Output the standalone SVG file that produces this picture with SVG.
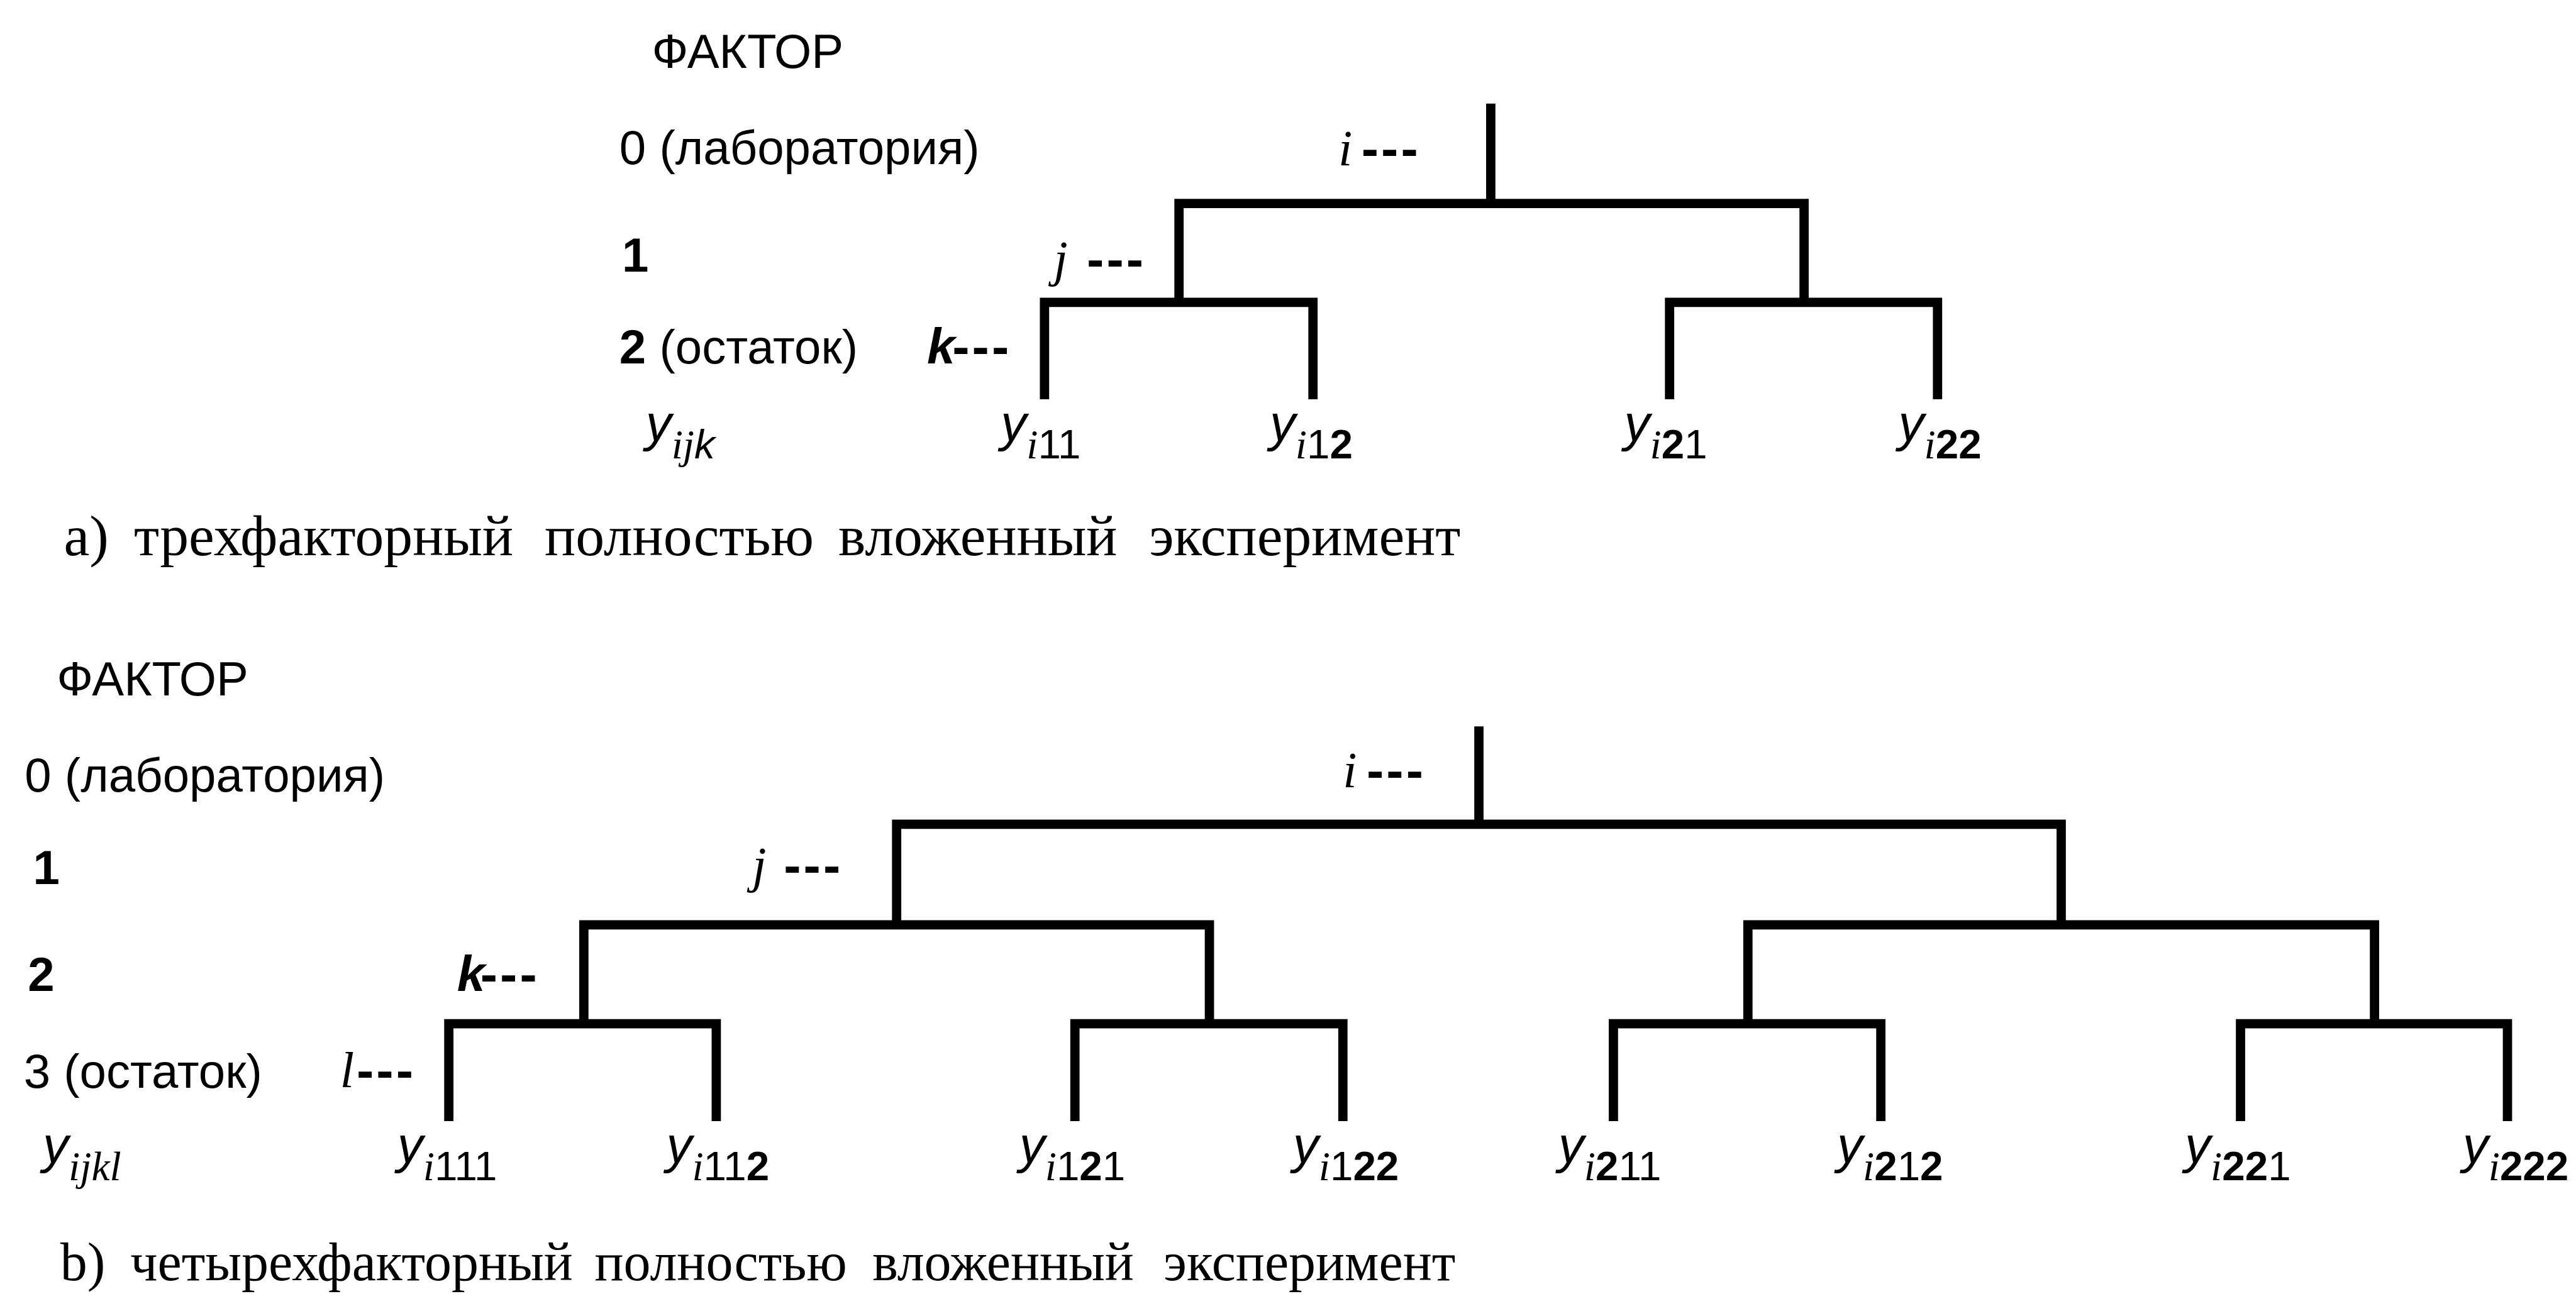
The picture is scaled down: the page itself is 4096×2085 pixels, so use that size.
<svg xmlns="http://www.w3.org/2000/svg" width="4096" height="2085" viewBox="0 0 4096 2085">
<style>
.sans{font-family:"Liberation Sans",Arial,sans-serif;fill:#000}
.row{font-family:"Liberation Sans",Arial,sans-serif;font-size:93px;fill:#000}
.b{font-weight:bold}
.it{font-family:"Liberation Serif","Times New Roman",serif;font-style:italic}
.sit{font-family:"Liberation Sans",Arial,sans-serif;font-style:italic}
.lvl{font-size:98px;fill:#000}
.dash{font-family:"Liberation Sans",Arial,sans-serif;font-weight:bold;font-size:100px;letter-spacing:5px;fill:#000}
.yl{font-family:"Liberation Sans",Arial,sans-serif;font-style:italic;font-size:100px;fill:#000}
.sub{font-size:80px}
.subi{font-family:"Liberation Serif","Times New Roman",serif;font-style:italic;font-size:80px}
.subd{font-family:"Liberation Sans",Arial,sans-serif;font-style:normal;font-size:80px}
.cap{font-family:"Liberation Serif","Times New Roman",serif;font-size:112px;fill:#000}
.capb{font-family:"Liberation Serif","Times New Roman",serif;font-size:105px;fill:#000}
.edge{fill:none;stroke:#000;stroke-width:18;stroke-linejoin:miter;stroke-linecap:butt}
</style>
<rect width="4096" height="2085" fill="#fff"/>
<g transform="scale(0.81936)">
  <!-- ===== Diagram a ===== -->
  <g id="a-rows">
    <text class="row" x="1265" y="132">ФАКТОР</text>
    <text class="row" x="1202" y="318">0 (лаборатория)</text>
    <text class="row b" x="1207" y="527">1</text>
    <text class="row" x="1202" y="706"><tspan class="b">2</tspan> (остаток)</text>
  </g>
  <g id="a-level-i"><text class="lvl it" x="2597" y="321">i</text><text class="dash" x="2642" y="322">---</text></g>
  <g id="a-level-j"><text class="lvl it" x="2045" y="536">j</text><text class="dash" x="2109" y="537">---</text></g>
  <g id="a-level-k"><text class="lvl sit b" x="1799" y="706">k</text><text class="dash" x="1848" y="707">---</text></g>
  <g id="a-yijk"><text class="yl" x="1253" y="856">y<tspan class="subi" y="890">ij</tspan><tspan class="sub">k</tspan></text></g>
  <g id="a-yi11"><text class="yl" x="1942" y="856">y<tspan class="subi" y="890">i</tspan><tspan class="subd">11</tspan></text></g>
  <g id="a-yi12"><text class="yl" x="2464" y="856">y<tspan class="subi" y="890">i</tspan><tspan class="subd">1<tspan class="b">2</tspan></tspan></text></g>
  <g id="a-yi21"><text class="yl" x="3152" y="856">y<tspan class="subi" y="890">i</tspan><tspan class="subd"><tspan class="b">2</tspan>1</tspan></text></g>
  <g id="a-yi22"><text class="yl" x="3684" y="856">y<tspan class="subi" y="890">i</tspan><tspan class="subd b">22</tspan></text></g>
  <g id="a-caption"><text class="cap" y="1078"><tspan x="124">a)</tspan><tspan x="260">трехфакторный</tspan><tspan x="1057">полностью</tspan><tspan x="1627">вложенный</tspan><tspan x="2230">эксперимент</tspan></text></g>

  <!-- ===== Diagram b ===== -->
  <g id="b-rows">
    <text class="row" x="110" y="1350">ФАКТОР</text>
    <text class="row" x="48" y="1536">0 (лаборатория)</text>
    <text class="row b" x="64" y="1716">1</text>
    <text class="row b" x="54" y="1924">2</text>
    <text class="row" x="46" y="2112">3 (остаток)</text>
  </g>
  <g id="b-level-i"><text class="lvl it" x="2606" y="1528">i</text><text class="dash" x="2652" y="1529">---</text></g>
  <g id="b-level-j"><text class="lvl it" x="1460" y="1712">j</text><text class="dash" x="1521" y="1713">---</text></g>
  <g id="b-level-k"><text class="lvl sit b" x="887" y="1924">k</text><text class="dash" x="932" y="1925">---</text></g>
  <g id="b-level-l"><text class="lvl it" x="660" y="2110">l</text><text class="dash" x="692" y="2111">---</text></g>
  <g id="b-yijkl"><text class="yl" x="83" y="2257">y<tspan class="subi" y="2291">ijkl</tspan></text></g>
  <g id="b-yi111"><text class="yl" x="771" y="2257">y<tspan class="subi" y="2291">i</tspan><tspan class="subd">111</tspan></text></g>
  <g id="b-yi112"><text class="yl" x="1293" y="2257">y<tspan class="subi" y="2291">i</tspan><tspan class="subd">11<tspan class="b">2</tspan></tspan></text></g>
  <g id="b-yi121"><text class="yl" x="1978" y="2257">y<tspan class="subi" y="2291">i</tspan><tspan class="subd">1<tspan class="b">2</tspan>1</tspan></text></g>
  <g id="b-yi122"><text class="yl" x="2509" y="2257">y<tspan class="subi" y="2291">i</tspan><tspan class="subd">1<tspan class="b">22</tspan></tspan></text></g>
  <g id="b-yi211"><text class="yl" x="3024" y="2257">y<tspan class="subi" y="2291">i</tspan><tspan class="subd"><tspan class="b">2</tspan>11</tspan></text></g>
  <g id="b-yi212"><text class="yl" x="3565" y="2257">y<tspan class="subi" y="2291">i</tspan><tspan class="subd"><tspan class="b">2</tspan>1<tspan class="b">2</tspan></tspan></text></g>
  <g id="b-yi221"><text class="yl" x="4240" y="2257">y<tspan class="subi" y="2291">i</tspan><tspan class="subd"><tspan class="b">22</tspan>1</tspan></text></g>
  <g id="b-yi222"><text class="yl" x="4779" y="2257">y<tspan class="subi" y="2291">i</tspan><tspan class="subd b">222</tspan></text></g>
  <g id="b-caption"><text class="capb" y="2485"><tspan x="117">b)</tspan><tspan x="253">четырехфакторный</tspan><tspan x="1154">полностью</tspan><tspan x="1693">вложенный</tspan><tspan x="2258">эксперимент</tspan></text></g>

  <!-- ===== Connectors ===== -->
  <g id="connectors" class="edge">
    <path d="M2893,201 V395"/>
    <path d="M2288,587 V395 H3501 V587"/>
    <path d="M2027,775 V587 H2548 V775"/>
    <path d="M3240,775 V587 H3760 V775"/>
    <path d="M2870,1410 V1600"/>
    <path d="M1740,1795 V1600 H4000 V1795"/>
    <path d="M1133,1987 V1795 H2347 V1987"/>
    <path d="M3392,1987 V1795 H4608 V1987"/>
    <path d="M871,2176 V1987 H1390 V2176"/>
    <path d="M2086,2176 V1987 H2606 V2176"/>
    <path d="M3131,2176 V1987 H3650 V2176"/>
    <path d="M4348,2176 V1987 H4866 V2176"/>
  </g>
</g>
</svg>
